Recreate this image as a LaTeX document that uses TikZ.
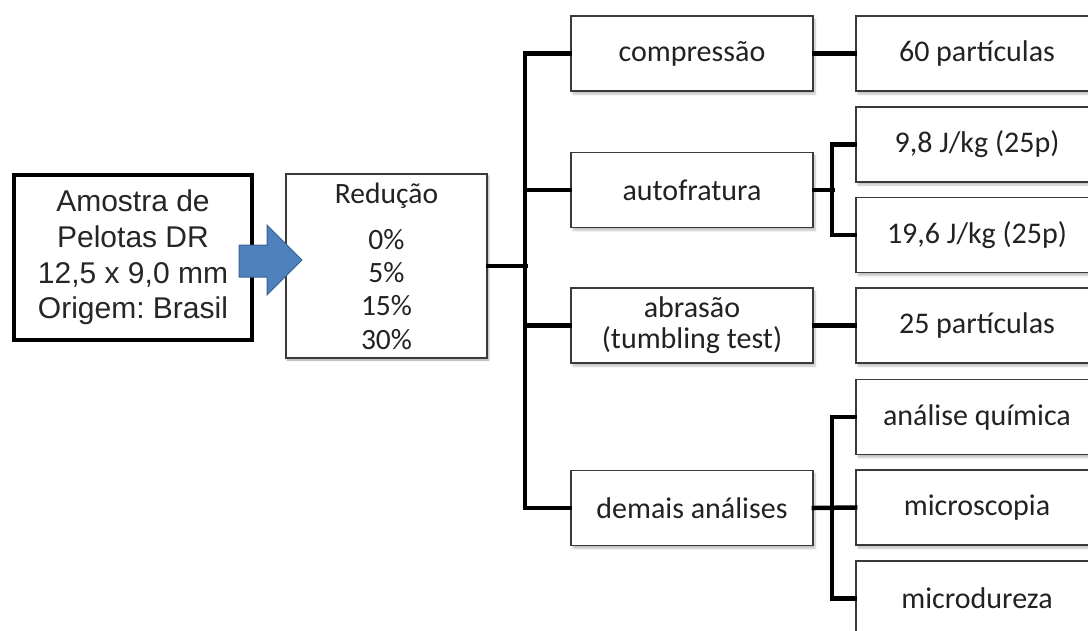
\documentclass[tikz,border=0pt]{standalone}
\usepackage{fontspec}
\setmainfont{Carlito}
\newfontfamily\arialfont{Liberation Sans}
\usetikzlibrary{shadows.blur}
\definecolor{txt}{HTML}{222222}
\definecolor{bord}{HTML}{3A3A3A}
\definecolor{arrowblue}{HTML}{4F81BD}
\definecolor{arrowdark}{HTML}{3A6398}
\frenchspacing
\begin{document}
\begin{tikzpicture}[x=1pt,y=-1pt,
  boxa/.style={draw=bord, line width=1.8pt, fill=white, text=txt,
    minimum width=242pt, minimum height=75pt, inner sep=0pt,
    font=\fontsize{30}{34}\selectfont,
    blur shadow={shadow xshift=2pt, shadow yshift=-3pt, shadow opacity=25, shadow blur steps=6}},
  conn/.style={line width=4.5pt, black, line cap=rect}
]
\useasboundingbox (0,0) rectangle (1088,630);
\clip (0,0) rectangle (1088,630);

% left sample box
\node[draw=black, line width=4pt, fill=white, text=black!85, minimum width=238pt, minimum height=165pt,
  inner sep=0pt, align=center, font=\arialfont\fontsize{30}{35.7}\selectfont]
  (amostra) at (133,257.5) {Amostra de\\Pelotas DR\\12,5 x 9,0 mm\\Origem: Brasil};

% reduction box
\node[boxa, minimum width=201pt, minimum height=184pt, align=center,
  font=\fontsize{29.5}{33.3}\selectfont,
  blur shadow={shadow xshift=1.5pt, shadow yshift=-2pt, shadow opacity=20}]
  (red) at (386.5,266) {Redução\\[13pt]0\%\\5\%\\15\%\\30\%};

% blue block arrow
\draw[fill=arrowblue, draw=arrowdark, line width=1pt, line join=miter]
  (239,245) -- (267,245) -- (267,225) -- (302,260) -- (267,295) -- (267,277) -- (239,277) -- cycle;

% middle column
\node[boxa] (comp) at (692,53.5) {compressão};
\node[boxa] (auto) at (692,190) {autofratura};
\node[boxa, align=center, font=\fontsize{30}{31}\selectfont] (abr) at (692,325.5) {abrasão\\(tumbling test)};
\node[boxa] (dem) at (692,508) {demais análises};

% right column
\node[boxa] (p60) at (977,53.5) {60 partículas};
\node[boxa] (j98) at (977,144.5) {9,8 J/kg (25p)};
\node[boxa] (j196) at (977,235) {19,6 J/kg (25p)};
\node[boxa] (p25) at (977,325.5) {25 partículas};
\node[boxa] (aq) at (977,417) {análise química};
\node[boxa] (mic) at (977,507.5) {microscopia};
\node[boxa] (mdz) at (977,598.5) {microdureza};

% connectors
\coordinate (busA) at (526,266);
\draw[conn] (red.east) -- (busA);
\draw[conn] (comp.west) -- ++(-45,0) |- (dem.west);
\draw[conn] (auto.west) -- ++(-45,0);
\draw[conn] (abr.west) -- ++(-45,0);

\draw[conn] (comp.east) -- (p60.west);
\draw[conn] (abr.east) -- (p25.west);
\coordinate (busB) at (833,190);
\draw[conn] (auto.east) -- (busB);
\draw[conn] (j98.west) -- ++(-23,0) |- (j196.west);
\draw[conn] (dem.east) -- (mic.west);
\draw[conn] (aq.west) -- ++(-23,0) |- (mdz.west);
\end{tikzpicture}
\end{document}
